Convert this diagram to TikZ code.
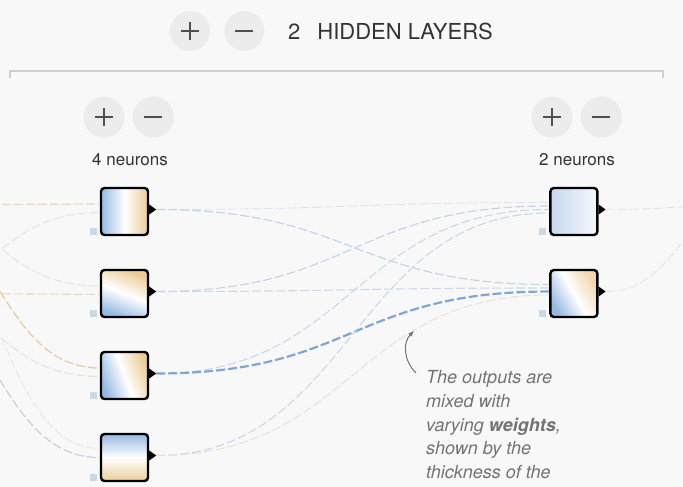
\documentclass[tikz,border=0pt]{standalone}
\usepackage{fontspec}
\setmainfont{TeX Gyre Heros}
\usetikzlibrary{arrows, positioning, calc}

\definecolor{bgpanel}{HTML}{F8F8F8}
\definecolor{nblue}{RGB}{150,185,226}
\definecolor{norange}{RGB}{236,204,150}
\definecolor{btnfill}{HTML}{ECECEC}
\definecolor{btnink}{HTML}{4F4F4F}
\definecolor{inktext}{HTML}{333333}
\definecolor{notegrey}{HTML}{737373}
\definecolor{rulegrey}{HTML}{CFCFCF}
\definecolor{biasgrey}{HTML}{CED8E3}
\definecolor{wpale}{HTML}{DCE4EE}
\definecolor{wlight}{HTML}{C2D2E5}
\definecolor{wstrong}{HTML}{82A6D3}
\definecolor{wbeige}{HTML}{EAD9C0}
\definecolor{wsand}{HTML}{ECE2D5}
\definecolor{wtan}{HTML}{E6CFAE}
\definecolor{wfog}{HTML}{E6E6E4}
\definecolor{wmist}{HTML}{E0E5EB}
\definecolor{wsteel}{HTML}{C2CEDD}

\begin{document}
\begin{tikzpicture}[x=1pt, y=-1pt]
  \tikzset{
    node distance=32.6pt and 400pt,
    neuron/.style={rectangle, draw=black, line width=2.4pt, rounded corners=3.5pt,
      minimum size=47pt, inner sep=0pt},
    bias/.style={rectangle, fill=biasgrey, minimum size=7pt, inner sep=0pt},
    btn/.style={circle, fill=btnfill, minimum size=40pt, inner sep=0pt},
    plusbtn/.style={btn, path picture={\draw[btnink, line width=2.2pt]
      (path picture bounding box.center) +(-9pt,0) -- +(9pt,0) +(0,-9pt) -- +(0,9pt);}},
    minusbtn/.style={btn, path picture={\draw[btnink, line width=2.2pt]
      (path picture bounding box.center) +(-9pt,0) -- +(9pt,0);}},
    lbl/.style={font=\fontsize{17}{20}\selectfont, text=inktext, inner sep=0pt},
    link/.style={dash pattern=on 9pt off 3pt},
    note/.style={font=\fontsize{18}{23.7}\selectfont\itshape, text=notegrey, align=left, inner sep=0pt}
  }
  \fill[bgpanel] (0,0) rectangle (683,487);
  \useasboundingbox (0,0) rectangle (683,487);
  \clip (0,0) rectangle (683,487);

  % header
  \node[plusbtn] (addlayer) at (190,31) {};
  \node[minusbtn, right=14pt of addlayer] (droplayer) {};
  \node[lbl, font=\fontsize{22}{26}\selectfont, anchor=base west] (layerhead) at (288,39.5) {2\hspace{17pt}HIDDEN LAYERS};
  \draw[rulegrey, line width=1.3pt] (10,78) -- (10,71) -- (663,71) -- (663,78);

  % layer controls
  \node[plusbtn, minimum size=41pt] (addn1) at (104,117) {};
  \node[minusbtn, minimum size=41pt, right=8pt of addn1] (dropn1) {};
  \node[plusbtn, minimum size=41pt] (addn2) at (552,117) {};
  \node[minusbtn, minimum size=41pt, right=8pt of addn2] (dropn2) {};
  \node[lbl, anchor=base] (cnt1) at (130,165) {4 neurons};
  \node[lbl, anchor=base] (cnt2) at (577,165) {2 neurons};

  % neurons
  \node[neuron, left color=nblue, right color=norange, middle color=white] (n1) at (124.5,211.5) {};
  \node[neuron, below=of n1, left color=nblue, right color=norange, middle color=white, shading angle=158] (n2) {};
  \node[neuron, below=of n2, left color=nblue, right color=norange, middle color=white, shading angle=110] (n3) {};
  \node[neuron, below=of n3, top color=nblue, bottom color=norange, middle color=white] (n4) {};
  \node[neuron, right=of n1, left color=nblue!55!white, right color=nblue!10!white] (m1) {};
  \node[neuron, below=of m1, left color=nblue, right color=norange!80!white, middle color=white, shading angle=120] (m2) {};

  \foreach \n in {n1,n2,n3,n4,m1,m2}{
    \node[bias, anchor=south east] (b\n) at ([xshift=-3pt, yshift=1pt]\n.south west) {};
    \fill (\n.east) ++(0,-7) -- ++(7,5) -- ++(-7,5) -- cycle;
    \coordinate (t\n) at ($(\n.east)+(7,-2)$);
  }

  \coordinate (in1) at (-106,205);
  \coordinate (in2) at (-106,293);
  \coordinate (out) at (746,205);

  % inputs to first layer
  \draw[link, wbeige, line width=1.2pt] (in1) .. controls +(103,0) and +(-103,0) .. ($(n1.west)+(0,-7.5)$);
  \draw[link, wmist, line width=1pt] (in2) .. controls +(103,0) and +(-103,0) .. ($(n1.west)+(0,1)$);
  \draw[link, wsand, line width=1pt] (in1) .. controls +(103,0) and +(-103,0) .. ($(n2.west)+(0,-7.5)$);
  \draw[link, wbeige, line width=1.1pt] (in2) .. controls +(103,0) and +(-103,0) .. ($(n2.west)+(0,1)$);
  \draw[link, wtan, line width=1.4pt] (in1) .. controls +(103,0) and +(-103,0) .. ($(n3.west)+(0,-7.5)$);
  \draw[link, wsand, line width=1.1pt] (in2) .. controls +(103,0) and +(-103,0) .. ($(n3.west)+(0,1)$);
  \draw[link, wfog, line width=0.8pt] (in1) .. controls +(103,0) and +(-103,0) .. ($(n4.west)+(0,-9)$);
  \draw[link, wsteel, line width=1.1pt] (in2) .. controls +(103,0) and +(-103,0) .. ($(n4.west)+(0,0)$);

  % first layer to second layer
  \draw[link, wpale, line width=0.8pt] (tn1) .. controls +(196,0) and +(-196,0) .. ($(m1.west)+(0,-9)$);
  \draw[link, wlight, line width=1.1pt] (tn1) .. controls +(196,0) and +(-196,0) .. ($(m2.west)+(0,-9)$);
  \draw[link, wlight, line width=1.1pt] (tn2) .. controls +(196,0) and +(-196,0) .. ($(m1.west)+(0,-5.5)$);
  \draw[link, wlight!85!white, line width=1.1pt] (tn2) .. controls +(196,0) and +(-196,0) .. ($(m2.west)+(0,-5.5)$);
  \draw[link, wlight!90!white, line width=1pt] (tn3) .. controls +(196,0) and +(-196,0) .. ($(m1.west)+(0,-2)$);
  \draw[link, wstrong, line width=2.2pt] (tn3) .. controls +(196,0) and +(-196,0) .. ($(m2.west)+(0,-2)$);
  \draw[link, wlight!90!white, line width=1pt] (tn4) .. controls +(196,0) and +(-196,0) .. ($(m1.west)+(0,1.5)$);
  \draw[link, wsand!85!wtan, line width=0.9pt] (tn4) .. controls +(196,0) and +(-196,0) .. ($(m2.west)+(0,1.5)$);

  % second layer to output
  \draw[link, wsand, line width=0.9pt] (tm1) .. controls +(70,0) and +(-70,0) .. (out);
  \draw[link, wfog, line width=0.9pt] (tm2) .. controls +(70,0) and +(-70,0) .. ($(out)+(0,4)$);

  % annotation
  \node[note, anchor=north west] (note) at (426,370.5) {The outputs are\\mixed with\\varying \textbf{weights},\\shown by the\\thickness of the};
  \coordinate (tail) at (416,373);
  \coordinate (tip) at (414,331);
  \draw[-latex, notegrey, line width=1pt] (tail) .. controls (403,360) and (403,342) .. (tip);
\end{tikzpicture}
\end{document}
